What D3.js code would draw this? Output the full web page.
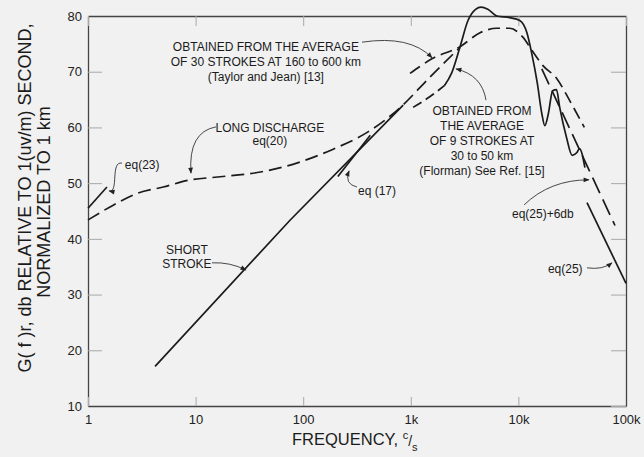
<!DOCTYPE html>
<html>
<head>
<meta charset="utf-8">
<title>G(f)r spectrum</title>
<script src="https://cdn.jsdelivr.net/npm/d3@7"></script>
<style>
body { margin:0; background:#f1f1f1; }
svg { display:block; font-family:"Liberation Sans", Arial, sans-serif; }
.axis .domain { stroke:#444; stroke-width:1.3px; }
.axis .tick line { stroke:#a8a8a8; }
.axis text { fill:#222; font-size:13px; font-family:"Liberation Sans", Arial, sans-serif; }
.curve { fill:none; stroke:#1b1b1b; stroke-width:1.7px; }
.note { font-size:12px; fill:#1b1b1b; }
.arrow { fill:none; stroke:#333; stroke-width:0.9px; }
.title { fill:#1b1b1b; }
</style>
</head>
<body>
<script>
// axis ticks
var yTicks = [10, 20, 30, 40, 50, 60, 70, 80];
var xTicks = [1, 10, 100, 1000, 10000, 100000];
var xTickLabels = ["1", "10", "100", "1k", "10k", "100k"];

// curves, [frequency c/s, dB]
var eq23 = [[1, 45.5], [1.5, 49.3]];
var longDischarge = [[1, 43.4], [1.7, 46], [2.9, 48.2], [5, 49.3], [9, 50.6], [16, 51.1], [40, 52],
  [87, 53.6], [190, 56.1], [400, 59.2], [800, 63.6], [1500, 69], [2870, 74.4]];
var shortStroke = [[4.2, 17.1], [75, 43.3], [850, 64]];
var eq17 = [[210, 51.2], [420, 58.6]];
var taylorJean = [[984, 69.7], [1600, 72.4], [2870, 74.5], [4400, 77], [6300, 77.8], [8300, 77.8],
  [11000, 76.2], [13400, 73.8], [16900, 71.1], [22700, 68.8], [30000, 64.8], [41000, 60]];
var flormanLow = [[1050, 63.6], [1500, 65.5], [2050, 67.5]];
var florman = [[2050, 67.5], [2400, 69.8], [2870, 74.5], [3400, 79.2], [4000, 81.2], [4500, 81.6],
  [5200, 81.2], [6300, 80], [8300, 79.7], [10300, 79.2], [12000, 77], [13300, 73.3], [15000, 67.9],
  [16500, 62.5], [17600, 60.3], [19000, 62.5], [20800, 66.6], [22600, 66.8], [24200, 63.6],
  [28000, 58.2], [31600, 55], [35000, 55.5], [37000, 56.2], [41500, 52.8]];
var eq25plus6 = [[16500, 70.5], [79000, 42.4]];
var eq25 = [[43400, 46.5], [100000, 32]];

var width = 644, height = 457;

var svg = d3.select("body").append("svg")
    .attr("width", width)
    .attr("height", height);

var x = d3.scaleLog().domain([1, 100000]).range([88, 626]);
var y = d3.scaleLinear().domain([10, 80]).range([406, 16]);

svg.append("defs").append("marker")
    .attr("id", "head")
    .attr("viewBox", "0 0 10 10")
    .attr("refX", 9).attr("refY", 5)
    .attr("markerUnits", "userSpaceOnUse")
    .attr("markerWidth", 8).attr("markerHeight", 6)
    .attr("orient", "auto")
  .append("path")
    .attr("d", "M0,1L10,5L0,9Z")
    .attr("fill", "#222");

// frame + ticks (inside)
svg.append("g").attr("class", "axis")
    .attr("transform", "translate(88,0)")
    .call(d3.axisLeft(y).tickValues(yTicks).tickSizeInner(-14).tickSizeOuter(0).tickPadding(6));

svg.append("g").attr("class", "axis")
    .attr("transform", "translate(0,406)")
    .call(d3.axisBottom(x).tickValues(xTicks).tickFormat(function(d, i) { return xTickLabels[i]; })
      .tickSizeInner(-9).tickSizeOuter(0).tickPadding(9));

svg.append("g").attr("class", "axis")
    .attr("transform", "translate(626,0)")
    .call(d3.axisRight(y).tickValues(yTicks).tickFormat("").tickSizeInner(-15).tickSizeOuter(0));

svg.append("g").attr("class", "axis")
    .attr("transform", "translate(0,16)")
    .call(d3.axisTop(x).tickValues(xTicks).tickFormat("").tickSizeInner(-10).tickSizeOuter(0));

// curves
var line = d3.line().x(function(d) { return x(d[0]); }).y(function(d) { return y(d[1]); });
var smooth = d3.line().x(function(d) { return x(d[0]); }).y(function(d) { return y(d[1]); })
    .curve(d3.curveMonotoneX);

function curve(data, gen, dash) {
  svg.append("path").datum(data)
      .attr("class", "curve")
      .attr("d", gen)
      .attr("stroke-dasharray", dash || null);
}

curve(eq23, line);
curve(longDischarge, smooth, "13,6");
curve(shortStroke, line);
curve(eq17, line);
curve(taylorJean, smooth, "12,6");
curve(flormanLow, smooth, "10,5");
curve(florman, smooth);
curve(eq25plus6, line, "17,7");
curve(eq25, line);

// annotations
function note(lines, f, db, anchor, step) {
  var t = svg.append("text").attr("class", "note")
      .attr("text-anchor", anchor);
  lines.forEach(function(s, i) {
    t.append("tspan").attr("x", x(f)).attr("y", y(db) + i * step).text(s);
  });
}

function arrow(pts) {
  var p = d3.path();
  p.moveTo(x(pts[0][0]), y(pts[0][1]));
  if (pts.length === 3) {
    p.quadraticCurveTo(x(pts[1][0]), y(pts[1][1]), x(pts[2][0]), y(pts[2][1]));
  } else {
    p.bezierCurveTo(x(pts[1][0]), y(pts[1][1]), x(pts[2][0]), y(pts[2][1]), x(pts[3][0]), y(pts[3][1]));
  }
  svg.append("path").attr("class", "arrow").attr("d", p.toString())
      .attr("marker-end", "url(#head)");
}

note(["OBTAINED FROM THE AVERAGE", "OF 30 STROKES AT 160 to 600 km", "(Taylor and Jean)  [13]"], 45, 73.7, "middle", 15);
arrow([[352, 75.3], [984, 76.6], [1575, 72.5]]);

note(["LONG DISCHARGE", "eq(20)"], 49, 59.2, "middle", 13);
arrow([[15.5, 60.1], [8.5, 59.2], [9.06, 51.8]]);

note(["eq(23)"], 2.2, 52.5, "start", 0);
arrow([[2.07, 53.6], [1.6, 54], [1.95, 48.2], [1.57, 48.6]]);

note(["SHORT", "STROKE"], 8.3, 37.3, "middle", 14);
arrow([[14.2, 35.7], [20.9, 35.85], [29.4, 34.4]]);

note(["eq (17)"], 323, 47.9, "start", 0);
arrow([[316, 49.3], [239, 49.85], [267, 52.2]]);

note(["OBTAINED FROM", "THE AVERAGE", "OF 9 STROKES AT", "30 to 50 km", "(Florman) See Ref. [15]"], 4590, 62.2, "middle", 15);
arrow([[5000, 64.9], [4590, 69.4], [2630, 70.5]]);

note(["eq(25)+6db"], 8720, 43.7, "start", 0);
arrow([[11300, 46.1], [19700, 50.6], [45300, 50.6]]);

note(["eq(25)"], 18800, 33.9, "start", 0);
arrow([[43400, 34.8], [61000, 34.4], [74000, 35.7]]);

// axis titles
svg.append("text").attr("class", "title")
    .attr("transform", "translate(31,198)rotate(-90)")
    .attr("text-anchor", "middle")
    .style("font-size", "18px")
    .text("G( f )r, db RELATIVE TO 1(uv/m) SECOND,");

svg.append("text").attr("class", "title")
    .attr("transform", "translate(50,202)rotate(-90)")
    .attr("text-anchor", "middle")
    .style("font-size", "18px")
    .text("NORMALIZED TO 1 km");

var xt = svg.append("text").attr("class", "title")
    .attr("x", 292).attr("y", 445)
    .style("font-size", "16.5px");
xt.append("tspan").text("FREQUENCY, ");
xt.append("tspan").attr("dy", -6).style("font-size", "11px").text("c");
xt.append("tspan").attr("dy", 7).style("font-size", "14px").text("/");
xt.append("tspan").attr("dy", 5).style("font-size", "11px").text("s");
</script>
</body>
</html>
